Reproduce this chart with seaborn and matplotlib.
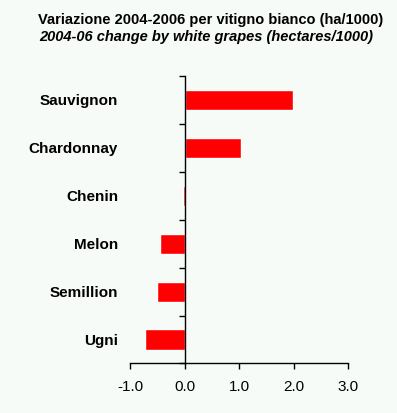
import matplotlib
matplotlib.use('Agg')
import matplotlib.pyplot as plt
import numpy as np
import pandas as pd
import seaborn as sns

grapes = ['Sauvignon', 'Chardonnay', 'Chenin', 'Melon', 'Semillion', 'Ugni']
change = [1.98, 1.04, -0.03, -0.45, -0.50, -0.72]
x_ticks = [-1.0, 0.0, 1.0, 2.0, 3.0]

bg = '#F7FBF7'

sns.set_theme(style='ticks')
plt.rcParams['font.family'] = ['Liberation Sans', 'DejaVu Sans']

df = pd.DataFrame({'grape': grapes, 'change': change})

fig = plt.figure(figsize=(3.97, 4.13), dpi=100, facecolor=bg)
ax = fig.add_axes([0.328, 0.120, 0.549, 0.696])
ax.set_facecolor(bg)

sns.barplot(data=df, x='change', y='grape', order=grapes, color='#FF0000',
            saturation=1, width=0.42, ax=ax)

ax.set_xlim(-1, 3)
ax.set_ylim(len(grapes) - 0.5, -0.5)
ax.tick_params(axis='x', length=4, width=1, color='black', pad=8, labelcolor='black')
ax.set_xticks(x_ticks)
ax.set_xticklabels([f'{v:.1f}' for v in x_ticks], fontsize=11)

# labels at category centers, tick marks on the boundaries
ax.tick_params(axis='y', which='major', length=0, pad=48, labelcolor='black')
ax.tick_params(axis='y', which='minor', length=4, width=1, color='black')
ax.set_yticks(range(len(grapes)))
ax.set_yticklabels(grapes, fontsize=10)
ax.set_yticks(np.arange(-0.5, len(grapes)), minor=True)

ax.spines['left'].set_position(('data', 0))
for s in ['left', 'bottom']:
    ax.spines[s].set_color('black')
    ax.spines[s].set_linewidth(1)
ax.spines['top'].set_visible(False)
ax.spines['right'].set_visible(False)
ax.set_xlabel('')
ax.set_ylabel('')

for lab in ax.yaxis.get_majorticklabels():
    lab.set_fontweight('bold')
    lab.set_color('black')

fig.text(0.53, 0.952, 'Variazione 2004-2006 per vitigno bianco (ha/1000)',
         ha='center', va='center', fontsize=10.5, fontweight='bold', color='black')
fig.text(0.52, 0.910, '2004-06 change by white grapes (hectares/1000)',
         ha='center', va='center', fontsize=10.5, fontweight='bold', style='italic',
         color='black')

fig.savefig('out.png', dpi=100, facecolor=bg)
